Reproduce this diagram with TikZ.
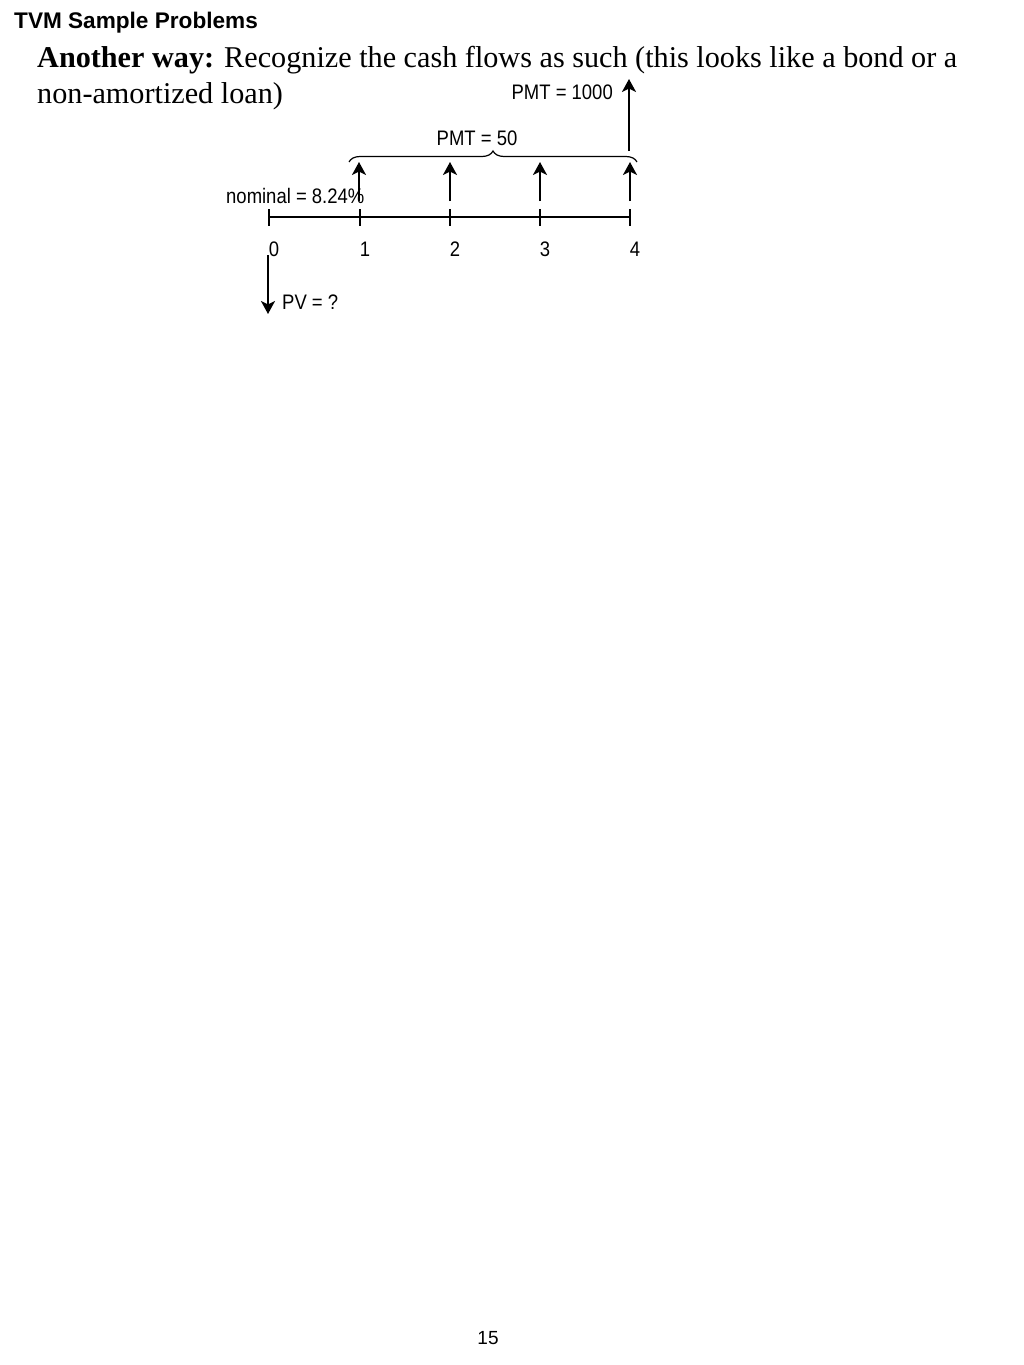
\documentclass[tikz,border=0pt]{standalone}
\usepackage{fontspec}
\setmainfont{Liberation Serif}
\setsansfont{Liberation Sans}
\newfontfamily\narrowsf[FakeStretch=0.88]{Liberation Sans}
\usepackage{tikz}
\usetikzlibrary{positioning}
\usetikzlibrary{arrows.meta,decorations.pathreplacing}
\tikzstyle{lbl} = [font=\narrowsf\fontsize{21}{24}\selectfont, inner sep=0pt]
\tikzstyle{flow} = [draw, line width=2.8pt, -{Stealth[length=13pt,width=14pt,inset=3.5pt]}]
\tikzstyle{axis} = [draw, line width=1.2pt]

\begin{document}
\begin{tikzpicture}[x=1pt, y=-1pt]
    \useasboundingbox (0,0) rectangle (1024,1365);
    % headings
    \node [anchor=base west, inner sep=0pt, font=\sffamily\bfseries\fontsize{22.6}{26}\selectfont] (head) at (14,28) {TVM Sample Problems};
    \node [anchor=base west, inner sep=0pt, font=\fontsize{30.2}{36}\selectfont] (line1) at (37,67) {\textbf{Another way:} Recognize the cash flows as such (this looks like a bond or a};
    \node [anchor=base west, inner sep=0pt, font=\fontsize{30.2}{36}\selectfont] (line2) at (37,103) {non-amortized loan)};
    % time line
    \foreach \i/\x in {0/269, 1/360, 2/450, 3/540, 4/630} {
        \coordinate (t\i) at (\x,217);
        \coordinate (tu\i) at (\x,209);
        \coordinate (td\i) at (\x,226);
        \path [axis] (tu\i) -- (td\i);
        \node [lbl] (n\i) at (\x+5,249) {\i};
    }
    \path [axis] (t0) -- (t4);
    % payments
    \foreach \i/\x in {1/359, 2/450, 3/540, 4/630} {
        \coordinate (pb\i) at (\x,201);
        \coordinate (pt\i) at (\x,162);
        \path [flow] (pb\i) -- (pt\i);
    }
    \coordinate (bigb) at (629,151);
    \coordinate (bigt) at (629,79);
    \path [flow] (bigb) -- (bigt);
    \coordinate (brl) at (349,162);
    \coordinate (brr) at (637,162);
    \draw [line width=1.2pt, decorate, decoration={brace, amplitude=11pt}] (brl) -- (brr);
    \node [lbl] (pmt) at (477,138) {PMT = 50};
    \node [lbl, anchor=east] (face) at (613,92) {PMT = 1000};
    \node [lbl, anchor=west] (rate) at (226,196) {nominal = 8.24\%};
    % present value
    \coordinate (pvt) at (268,255);
    \coordinate (pvb) at (268,314);
    \path [flow] (pvt) -- (pvb);
    \node [lbl, anchor=west] (pv) at (282,302) {PV = ?};
    % page number
    \node [lbl, font=\sffamily\fontsize{19}{22}\selectfont] (page) at (488,1338) {15};
\end{tikzpicture}
\end{document}
